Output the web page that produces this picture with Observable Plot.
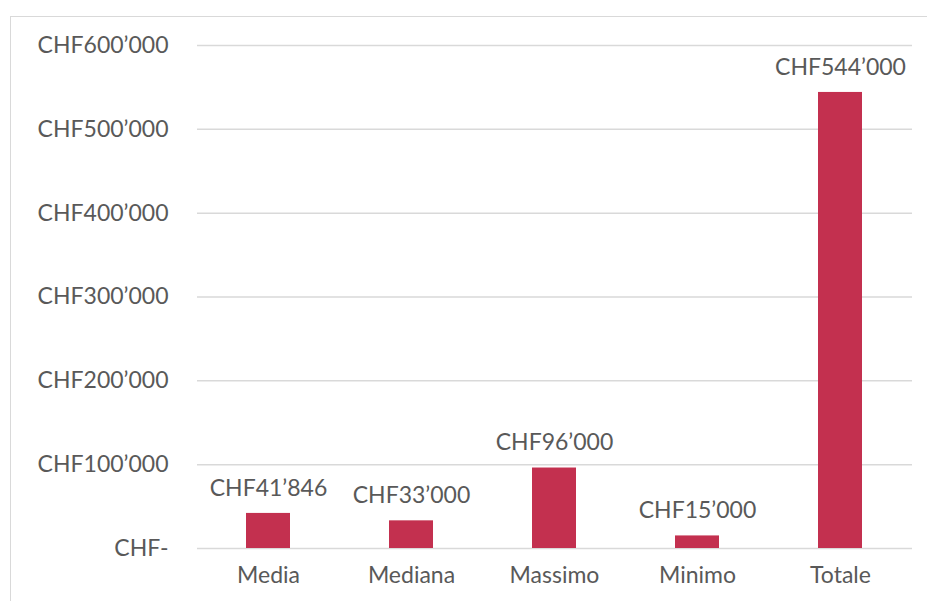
<!DOCTYPE html>
<html>
<head>
<meta charset="utf-8">
<script src="https://cdn.jsdelivr.net/npm/d3@7"></script>
<script src="https://cdn.jsdelivr.net/npm/@observablehq/plot@0.6"></script>
<style>
  html, body { margin: 0; padding: 0; background: #fff; overflow: hidden; }
  #wrap { position: relative; width: 927px; height: 601px; }
  #frame { position: absolute; left: 10px; top: 16px; width: 940px; height: 620px; border: 1.5px solid #d9d9d9; box-sizing: border-box; }
  #chart { position: absolute; left: 0; top: 0; }
</style>
</head>
<body>
<div id="wrap"><div id="frame"></div><div id="chart"></div></div>
<script>
const categories = ["Media", "Mediana", "Massimo", "Minimo", "Totale"];
const values = [41846, 33000, 96000, 15000, 544000];
const yTicks = [0, 100000, 200000, 300000, 400000, 500000, 600000];

const fmt = v => v === 0 ? "CHF-" : "CHF" + d3.format(",")(v).replace(/,/g, "\u2019");
const data = categories.map((c, i) => ({category: c, value: values[i]}));

const FS = 23;
const chart = Plot.plot({
  width: 927,
  height: 601,
  marginLeft: 197,
  marginRight: 15,
  marginTop: 45,
  marginBottom: 53,
  style: {fontFamily: "Lato, sans-serif", fontSize: FS + "px", color: "#595959", background: "transparent"},
  x: {domain: categories, paddingInner: 0.69, paddingOuter: 0.345, label: null},
  y: {domain: [0, 600000], label: null},
  marks: [
    Plot.gridY(yTicks, {stroke: "#d9d9d9", strokeOpacity: 1, strokeWidth: 1.5}),
    Plot.barY(data, {x: "category", y: "value", fill: "#c3304f"}),
    Plot.text(data, {x: "category", y: "value", text: d => fmt(d.value), dy: -25, fill: "#595959", fontSize: FS}),
    Plot.axisX({tickSize: 0, tickPadding: 18, fontSize: FS, fill: "#595959"}),
    Plot.axisY({ticks: yTicks, tickFormat: fmt, tickSize: 0, tickPadding: 29, fontSize: FS, fill: "#595959"})
  ]
});
document.getElementById("chart").appendChild(chart);
</script>
</body>
</html>
